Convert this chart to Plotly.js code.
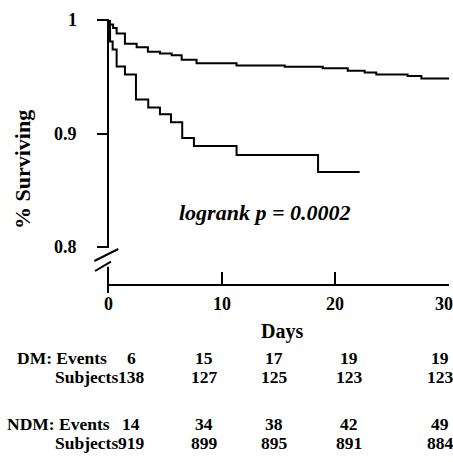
<!DOCTYPE html>
<html>
<head>
<meta charset="utf-8">
<script src="https://cdn.plot.ly/plotly-3.0.1.min.js"></script>
<style>html,body{margin:0;padding:0;background:#fff;}#chart{width:453px;height:462px;}</style>
</head>
<body>
<div id="chart"></div>
<script>
// Kaplan-Meier step data (days, survival fraction)
const dmDays  = [0, 0.18, 0.41, 0.76, 1.49, 2.46, 3.54, 4.57, 5.54, 6.53, 7.56, 11.31, 18.48, 22.14];
const dmSurv  = [1, 0.981, 0.974, 0.959, 0.952, 0.930, 0.923, 0.917, 0.910, 0.896, 0.889, 0.881, 0.866, 0.866];
const ndmDays = [0, 0.15, 0.45, 0.76, 1.49, 2.52, 3.51, 4.57, 5.6, 6.48, 7.79, 11.31, 15.55, 18.89, 21.09, 22.58, 23.6, 26.36, 27.57, 30];
const ndmSurv = [1, 0.996, 0.993, 0.988, 0.979, 0.976, 0.972, 0.9705, 0.969, 0.965, 0.962, 0.960, 0.9588, 0.9574, 0.9552, 0.9538, 0.952, 0.9506, 0.9485, 0.9485];

// Axis ticks
const xTickVals = [0, 10, 20, 30];
const xTickText = ["0", "10", "20", "30"];
const yTickVals = [0.8, 0.9, 1];
const yTickText = ["0.8", "0.9", "1"];

// At-risk table
const dmEvents    = [6, 15, 17, 19, 19];
const dmSubjects  = [138, 127, 125, 123, 123];
const ndmEvents   = [14, 34, 38, 42, 49];
const ndmSubjects = [919, 899, 895, 891, 884];
const rowLabels   = ["DM: Events", "Subjects", "NDM: Events", "Subjects"];

const FONT = "Liberation Serif, Times New Roman, serif";

// geometry helpers (pixel -> paper), plot area: left 108, width 341, top 20, height 264
const L = 108, W = 341, T = 20, H = 264;
const px = v => (v - L) / W;
const py = v => (T + H - v) / H;

const lineStyle = {color: "#000", width: 2};
const traces = [
  {x: ndmDays, y: ndmSurv, mode: "lines", line: Object.assign({shape: "hv"}, lineStyle), name: "NDM", hoverinfo: "x+y"},
  {x: dmDays, y: dmSurv, mode: "lines", line: Object.assign({shape: "hv"}, lineStyle), name: "DM", hoverinfo: "x+y"}
];

const colX = [131, 204, 274, 349, 440];
const rowY = [358, 377, 424, 443];
const rowLeft = [15, 53, 5, 53];
const rowData = [dmEvents, dmSubjects, ndmEvents, ndmSubjects];
const TBL = 17.5;

const annotations = [];
// x tick labels, placed through the x axis scale
xTickVals.forEach((v, i) => {
  annotations.push({xref: "x", yref: "paper", x: v, y: py(304), xanchor: "center", yanchor: "middle",
    xshift: (i === xTickVals.length - 1) ? -5 : 0, name: "xlab" + i,
    text: "<b>" + xTickText[i] + "</b>", showarrow: false, font: {family: FONT, size: 18, color: "#000"}});
});
// y tick labels, placed through the y axis scale
yTickVals.forEach((v, i) => {
  annotations.push({xref: "paper", yref: "y", x: px(79), y: v, xanchor: "right", yanchor: "middle",
    text: "<b>" + yTickText[i] + "</b>", showarrow: false, font: {family: FONT, size: 18, color: "#000"}});
});
rowLabels.forEach((lab, r) => {
  annotations.push({xref: "paper", yref: "paper", x: px(rowLeft[r]), y: py(rowY[r]), xanchor: "left", yanchor: "middle",
    text: "<b>" + lab + "</b>", showarrow: false, font: {family: FONT, size: TBL, color: "#000"}});
  rowData[r].forEach((v, c) => {
    annotations.push({xref: "paper", yref: "paper", x: px(colX[c]), y: py(rowY[r]), xanchor: "center", yanchor: "middle",
      text: "<b>" + v + "</b>", showarrow: false, font: {family: FONT, size: TBL, color: "#000"}});
  });
});
annotations.push({xref: "paper", yref: "paper", x: px(264), y: py(212), xanchor: "center", yanchor: "middle",
  text: "<b><i>logrank p = 0.0002</i></b>", showarrow: false, font: {family: FONT, size: 22, color: "#000"}});
annotations.push({xref: "paper", yref: "paper", x: px(23), y: py(170), xanchor: "center", yanchor: "middle", textangle: -90,
  text: "<b>% Surviving</b>", showarrow: false, font: {family: FONT, size: 22, color: "#000"}});
annotations.push({xref: "paper", yref: "paper", x: px(282), y: py(331), xanchor: "center", yanchor: "middle",
  text: "<b>Days</b>", showarrow: false, font: {family: FONT, size: 20, color: "#000"}});

const shapes = [
  // broken y-axis line
  {type: "line", xref: "paper", yref: "paper", x0: 0, x1: 0, y0: py(19), y1: py(248), line: {color: "#000", width: 2}},
  {type: "line", xref: "paper", yref: "paper", x0: 0, x1: 0, y0: py(266.7), y1: py(293), line: {color: "#000", width: 2}},
  {type: "line", xref: "paper", yref: "paper", x0: px(94.3), y0: py(261), x1: px(118.3), y1: py(249), line: {color: "#000", width: 2}},
  {type: "line", xref: "paper", yref: "paper", x0: px(95), y0: py(271), x1: px(111), y1: py(261.7), line: {color: "#000", width: 2}}
];

const layout = {
  width: 453, height: 462,
  margin: {l: L, r: 453 - L - W, t: T, b: 462 - T - H},
  showlegend: false,
  font: {family: FONT, color: "#000"},
  xaxis: {
    range: [0, 30], tickmode: "array", tickvals: xTickVals, showticklabels: false,
    showline: true, linecolor: "#000", linewidth: 2,
    ticks: "inside", ticklen: 12, tickwidth: 2, tickcolor: "#000",
    showgrid: false, zeroline: false, automargin: false
  },
  yaxis: {
    range: [0.7674, 1.0], tickmode: "array", tickvals: yTickVals, showticklabels: false,
    showline: false, ticks: "outside", ticklen: 10, tickwidth: 2, tickcolor: "#000",
    showgrid: false, zeroline: false, automargin: false
  },
  annotations: annotations,
  shapes: shapes
};

Plotly.newPlot("chart", traces, layout, {displayModeBar: false, staticPlot: true}).then(gd => {
  // bring the x tick-label annotations to the very front so nothing can cover them
  const svgs = gd.querySelectorAll("svg.main-svg");
  const top = svgs[svgs.length - 1];
  gd.querySelectorAll("g.annotation").forEach(g => {
    const t = g.textContent.trim();
    if (xTickText.indexOf(t) >= 0) top.appendChild(g);
  });
});
</script>
</body>
</html>
